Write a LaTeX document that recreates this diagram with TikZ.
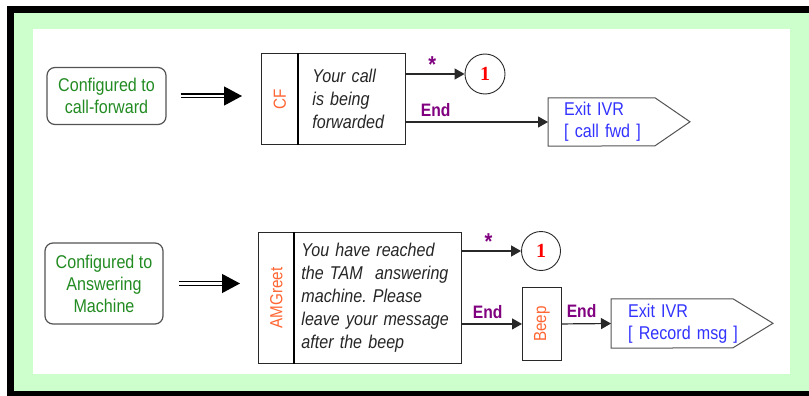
\documentclass[tikz,border=0pt]{standalone}
\usepackage{fontspec}
\setmainfont{Liberation Sans}[FakeStretch=0.87]
\newfontfamily\numfont{Liberation Serif}
\usetikzlibrary{arrows.meta,calc}
\frenchspacing

\definecolor{panelgreen}{RGB}{204,255,204}
\definecolor{cfgtext}{RGB}{34,139,34}
\definecolor{tagorange}{RGB}{255,102,51}
\definecolor{evpurple}{RGB}{128,0,128}
\definecolor{exitblue}{RGB}{51,51,255}
\definecolor{edge}{RGB}{40,40,40}

\tikzset{
  cfgbox/.style={draw=edge!80, line width=1.2pt, rounded corners=8pt, align=center,
    text=cfgtext, font=\fontsize{18.5}{22}\selectfont, inner sep=0pt},
  tagbox/.style={draw=edge, line width=0.9pt, anchor=north west, inner sep=0pt,
    text=tagorange, font=\fontsize{17.5}{20}\selectfont},
  msgbox/.style={draw=edge, line width=0.9pt, anchor=north west, align=left,
    font=\itshape\fontsize{18.5}{23}\selectfont, text=black!85, inner ysep=0pt},
  divider/.style={line width=1.5pt, draw=black},
  gotonode/.style={circle, draw=edge, line width=0.9pt, minimum size=40pt, inner sep=0pt,
    text=red, font=\numfont\bfseries\fontsize{20}{20}\selectfont},
  exitbox/.style={anchor=west, align=left, inner ysep=0pt, text=exitblue,
    font=\fontsize{18.5}{22}\selectfont},
  exitline/.style={draw=edge!80, line width=1pt},
  flow/.style={draw=edge, line width=1.2pt, -{Triangle[length=10pt,width=11pt]}},
  evlabel/.style={text=evpurple, font=\bfseries\fontsize{18}{20}\selectfont, inner sep=2pt},
  starlabel/.style={evlabel, font=\bfseries\fontsize{23}{23}\selectfont, inner sep=0pt},
  dblline/.style={draw=black, line width=1.2pt, double=white, double distance=2.6pt},
  dbltip/.style={draw=black, line width=1.2pt, -{Triangle[length=18pt,width=19pt]}}
}

\begin{document}
\begin{tikzpicture}[x=1pt,y=-1pt]
\useasboundingbox (0,0) rectangle (809,396);

% frame: black border, green mat, white panel
\fill[white] (0,0) rectangle (809,396);
\fill[black] (6.5,6) rectangle (815,400);
\fill[panelgreen] (14,13) rectangle (815,391);
\fill[white] (33,29) rectangle (790,374);

% ---------- call-forward branch ----------
\node[cfgbox, minimum width=119pt, minimum height=57pt] (cfg1) at (106.5,96)
  {Configured to\\call-forward};

\node[tagbox, minimum width=37pt, minimum height=91pt] (cftag) at (261,53)
  {\rotatebox{90}{CF}};
\node[msgbox, minimum height=91pt, text width=79pt, inner xsep=14pt] (cfmsg) at (298,53)
  {Your call\\is being\\forwarded};
\draw[divider] (cfmsg.north west) -- (cfmsg.south west);

\node[gotonode] (goto1) at (485,74) {1};

\node[exitbox, minimum height=48pt, text width=90pt, inner xsep=16pt] (exit1) at (548,122)
  {Exit IVR\\{[} call fwd ]};
\draw[exitline] (exit1.north west) -- ++(107,0) -- ++(35,24) -- ++(-35,24)
  -- (exit1.south west) -- cycle;

\draw[dblline, shorten <=14pt, shorten >=36pt] (cfg1.east) -- (cfg1.east -| cftag.west);
\draw[dbltip, shorten <=57pt, shorten >=19pt] (cfg1.east) -- (cfg1.east -| cftag.west);

\draw[flow] (cfmsg.east |- goto1) -- (goto1)
  node[starlabel, pos=0.45, above=1pt] {*};
\draw[flow] (cfmsg.east |- exit1.west) -- (exit1.west)
  node[evlabel, pos=0.21, above=3pt] {End};

% ---------- answering-machine branch ----------
\node[cfgbox, minimum width=118pt, minimum height=81pt] (cfg2) at (104,283.5)
  {Configured to\\Answering\\Machine};

\node[tagbox, minimum width=36pt, minimum height=131pt] (amtag) at (258,232)
  {\rotatebox{90}{AMGreet}};
\node[msgbox, minimum height=131pt, text width=153pt, inner xsep=7pt] (ammsg) at (294,232)
  {You have reached\\the TAM~ answering\\machine. Please\\leave your message\\after the beep};
\draw[divider] (ammsg.north west) -- (ammsg.south west);

\node[gotonode, minimum size=39pt] (goto2) at (541,251) {1};

\node[tagbox, minimum width=39pt, minimum height=73pt] (beep) at (522,287)
  {\rotatebox{90}{Beep}};

\node[exitbox, minimum height=49pt, text width=125pt, inner xsep=17pt] (exit2) at (611,323.5)
  {Exit IVR\\{[} Record msg ]};
\draw[exitline] (exit2.north west) -- ++(122,0) -- ++(40,24.5) -- ++(-40,24.5)
  -- (exit2.south west) -- cycle;

\draw[dblline, shorten <=15pt, shorten >=36pt] (cfg2.east) -- (cfg2.east -| amtag.west);
\draw[dbltip, shorten <=58pt, shorten >=18pt] (cfg2.east) -- (cfg2.east -| amtag.west);

\draw[flow] (ammsg.east |- goto2) -- (goto2)
  node[starlabel, pos=0.45, above=1pt] {*};
\draw[flow] (ammsg.east |- beep) -- (beep.west)
  node[evlabel, pos=0.43, above=3pt] {End};
\draw[flow] (beep.east) -- (exit2.west)
  node[evlabel, pos=0.4, above=3pt] {End};
\end{tikzpicture}
\end{document}
